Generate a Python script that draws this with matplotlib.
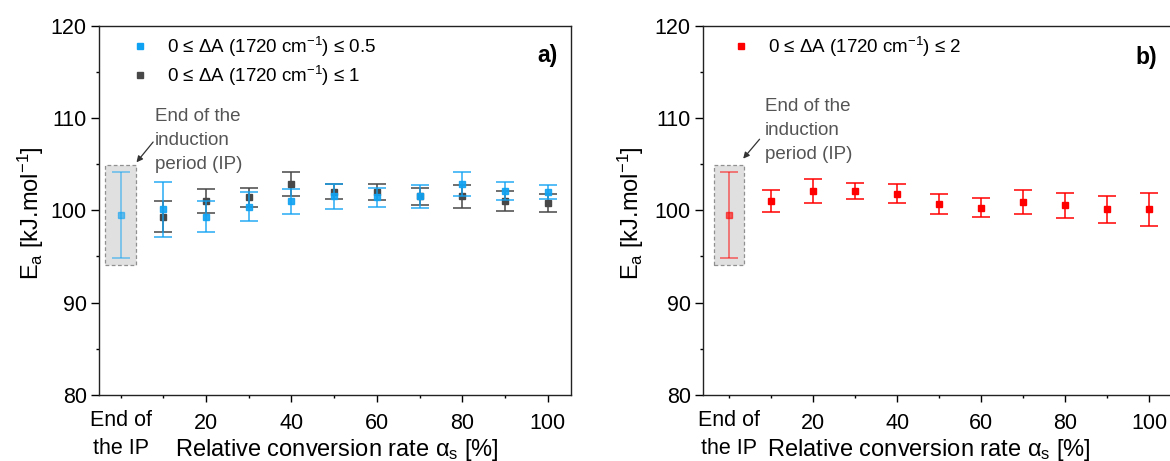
import matplotlib
matplotlib.use("Agg")
import matplotlib.pyplot as plt
from matplotlib.lines import Line2D
from matplotlib.patches import Rectangle

plt.rcParams['font.family'] = ['Liberation Sans', 'DejaVu Sans']
plt.rcParams['mathtext.fontset'] = 'custom'
plt.rcParams['mathtext.rm'] = 'Liberation Sans'
plt.rcParams['mathtext.it'] = 'Liberation Sans:italic'
plt.rcParams['mathtext.sf'] = 'Liberation Sans'

# data
conv = [10, 20, 30, 40, 50, 60, 70, 80, 90, 100]

ip_x = 0
ip_ea = 99.5
ip_err = 4.7

ea_05 = [100.1, 99.3, 100.4, 101.0, 101.5, 101.4, 101.5, 102.8, 102.1, 102.0]
err_05 = [3.0, 1.7, 1.55, 1.35, 1.4, 1.05, 1.2, 1.3, 0.95, 0.75]

ea_1 = [99.3, 101.0, 101.4, 102.8, 102.0, 102.0, 101.5, 101.5, 101.0, 100.8]
err_1 = [1.7, 1.3, 1.0, 1.3, 0.8, 0.85, 0.9, 1.2, 1.1, 1.0]

ea_2 = [101.0, 102.1, 102.1, 101.8, 100.7, 100.3, 100.9, 100.55, 100.1, 100.1]
err_2 = [1.2, 1.3, 0.9, 1.05, 1.1, 1.0, 1.3, 1.35, 1.5, 1.75]

lab_05 = '0 \u2264 \u0394A (1720 cm$^{\\mathrm{-1}}$) \u2264 0.5'
lab_1 = '0 \u2264 \u0394A (1720 cm$^{\\mathrm{-1}}$) \u2264 1'
lab_2 = '0 \u2264 \u0394A (1720 cm$^{\\mathrm{-1}}$) \u2264 2'

BLUE = '#10a2f2'
DARK = '#484848'
RED = '#ff0000'
GRAYTXT = '#555555'

fig = plt.figure(figsize=(11.7, 4.61), dpi=100)
ax1 = fig.add_axes([0.0849, 0.1432, 0.4029, 0.8011])
ax2 = fig.add_axes([0.6011, 0.1432, 0.4006, 0.8011])


def ip_box(ax, color):
    # grey dashed box around the induction period point
    ax.add_patch(Rectangle((ip_x - 3.6, ip_ea - ip_err - 0.7), 7.2, 2 * ip_err + 1.4,
                           facecolor='#e0e0e0', edgecolor='#909090', ls=(0, (3, 2)),
                           lw=0.9, zorder=1))
    ax.errorbar([ip_x], [ip_ea], yerr=[ip_err], fmt='s', color=color, ms=5,
                capsize=6.5, elinewidth=1.1, capthick=1.1, alpha=0.6, zorder=3)


def style(ax, xlim, lx, ly):
    ax.set_xlim(*xlim)
    ax.set_ylim(80, 120)
    ax.set_yticks([80, 90, 100, 110, 120])
    ax.set_yticks([85, 95, 105, 115], minor=True)
    ax.set_xticks([20, 40, 60, 80, 100])
    ax.set_xticks([0, 10, 30, 50, 70, 90], minor=True)
    ax.tick_params(axis='both', which='both', direction='out', labelsize=15.5,
                   colors='black', width=1)
    ax.tick_params(axis='y', which='major', length=6, pad=3)
    ax.tick_params(axis='y', which='minor', length=2.5)
    ax.tick_params(axis='x', which='major', length=5, pad=8)
    ax.tick_params(axis='x', which='minor', length=2.5)
    for s in ax.spines.values():
        s.set_linewidth(1.0)
        s.set_color('#222222')
    ax.set_ylabel('E$_{\\mathrm{a}}$ [kJ.mol$^{\\mathrm{-1}}$]', fontsize=17)
    ax.yaxis.set_label_coords(ly, 0.493)
    ax.set_xlabel('Relative conversion rate \u03b1$_{\\mathrm{s}}$ [%]', fontsize=17, va='top')
    ax.xaxis.set_label_coords(lx, -0.114)
    ax.text(0, -0.04, 'End of\nthe IP', transform=ax.get_xaxis_transform(),
            ha='center', va='top', fontsize=15.5, linespacing=1.45, multialignment='center')


# panel a
ip_box(ax1, BLUE)
ax1.errorbar(conv, ea_1, yerr=err_1, fmt='s', color=DARK, ms=5, capsize=6.5,
             elinewidth=1.1, capthick=1.1, zorder=4)
ax1.errorbar(conv, ea_05, yerr=err_05, fmt='s', color=BLUE, ms=5, capsize=6.5,
             elinewidth=1.1, capthick=1.1, alpha=0.9, zorder=5)
style(ax1, (-5, 105.4), 0.503, -0.114)
h1 = [Line2D([], [], marker='s', ls='none', color=BLUE, ms=3.8),
      Line2D([], [], marker='s', ls='none', color=DARK, ms=3.8)]
ax1.legend(h1, [lab_05, lab_1], loc='upper left', bbox_to_anchor=(0.067, 0.975),
           frameon=False, fontsize=13.5, handlelength=1.0, handletextpad=0.95,
           borderaxespad=0, borderpad=0, labelspacing=0.25)
ax1.text(0.95, 0.918, 'a)', transform=ax1.transAxes, ha='center', va='center',
         fontsize=16.5, fontweight='bold')
ax1.text(8.0, 111.1, 'End of the\ninduction\nperiod (IP)', ha='left', va='top',
         fontsize=13.5, color=GRAYTXT, linespacing=1.55)
ax1.annotate('', xy=(3.7, 105.2), xytext=(7.6, 107.4),
             arrowprops=dict(arrowstyle='-|>', color='#333333', lw=0.9,
                             mutation_scale=9, shrinkA=0, shrinkB=0))

# panel b
ip_box(ax2, RED)
ax2.errorbar(conv, ea_2, yerr=err_2, fmt='s', color=RED, ms=5, capsize=6.5,
             elinewidth=1.1, capthick=1.1, zorder=4)
style(ax2, (-6.2, 105.4), 0.482, -0.123)
h2 = [Line2D([], [], marker='s', ls='none', color=RED, ms=3.8)]
ax2.legend(h2, [lab_2], loc='upper left', bbox_to_anchor=(0.0606, 0.975),
           frameon=False, fontsize=13.5, handlelength=1.0, handletextpad=0.95,
           borderaxespad=0, borderpad=0)
ax2.text(0.9445, 0.9125, 'b)', transform=ax2.transAxes, ha='center', va='center',
         fontsize=16.5, fontweight='bold')
ax2.text(8.5, 112.2, 'End of the\ninduction\nperiod (IP)', ha='left', va='top',
         fontsize=13.5, color=GRAYTXT, linespacing=1.55)
ax2.annotate('', xy=(3.3, 105.6), xytext=(7.2, 107.7),
             arrowprops=dict(arrowstyle='-|>', color='#333333', lw=0.9,
                             mutation_scale=9, shrinkA=0, shrinkB=0))

fig.savefig('out.png', dpi=100)
